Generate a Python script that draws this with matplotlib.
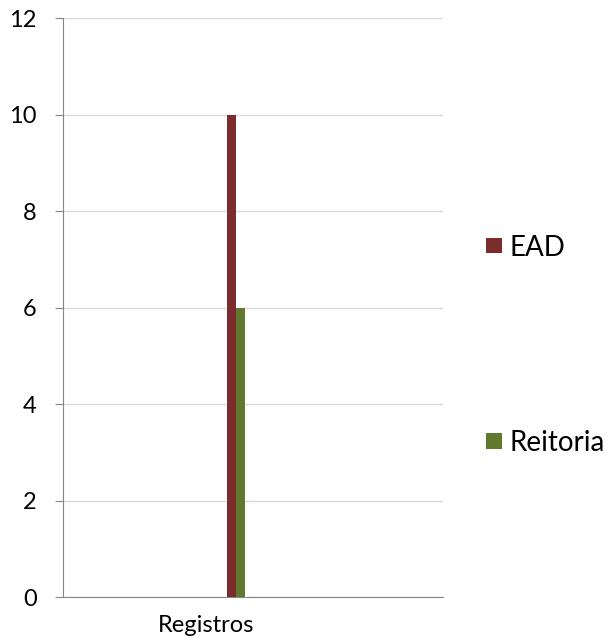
import matplotlib.pyplot as plt
from matplotlib.patches import Patch
from matplotlib.transforms import ScaledTranslation

plt.rcParams['font.family'] = ['Lato', 'DejaVu Sans']

categories = ['Registros']
series = ['EAD', 'Reitoria']
values = {'EAD': [10], 'Reitoria': [6]}
colors = {'EAD': '#7B2C2C', 'Reitoria': '#60792F'}

fig = plt.figure(figsize=(6.15, 6.43), dpi=100)
ax = fig.add_axes([0.1024, 0.0715, 0.6179, 0.9005])

w = 0.024
for i, s in enumerate(series):
    xs = [k + (i - 0.5) * w for k in range(len(categories))]
    ax.bar(xs, values[s], width=w, color=colors[s], edgecolor='none', zorder=3)

# excel puts the bars a bit left of centre
ax.set_xlim(-0.455, len(categories) - 0.455)
ax.set_ylim(0, 12)
ax.set_yticks(range(0, 13, 2))
ax.set_xticks(range(len(categories)))
ax.set_xticklabels(categories)

ax.grid(axis='y', color='#D9D9D9', linewidth=1, zorder=0)
for side in ['top', 'right']:
    ax.spines[side].set_visible(False)
for side in ['left', 'bottom']:
    ax.spines[side].set_color('#868686')
ax.tick_params(axis='y', length=6, color='#868686', labelsize=17, pad=13)
ax.tick_params(axis='x', length=0, labelsize=17, pad=13)

off = ScaledTranslation(-30 / 100, 0, fig.dpi_scale_trans)
for lab in ax.get_xticklabels():
    lab.set_transform(lab.get_transform() + off)

# square legend keys
handles = [Patch(facecolor=colors[s], label=s) for s in series]
fig.legend(handles=handles, loc='center left', bbox_to_anchor=(0.750, 0.463),
           frameon=False, fontsize=20, handlelength=0.55, handleheight=0.47,
           handletextpad=0.3, labelspacing=6.1)

fig.savefig('out.png', dpi=100)
